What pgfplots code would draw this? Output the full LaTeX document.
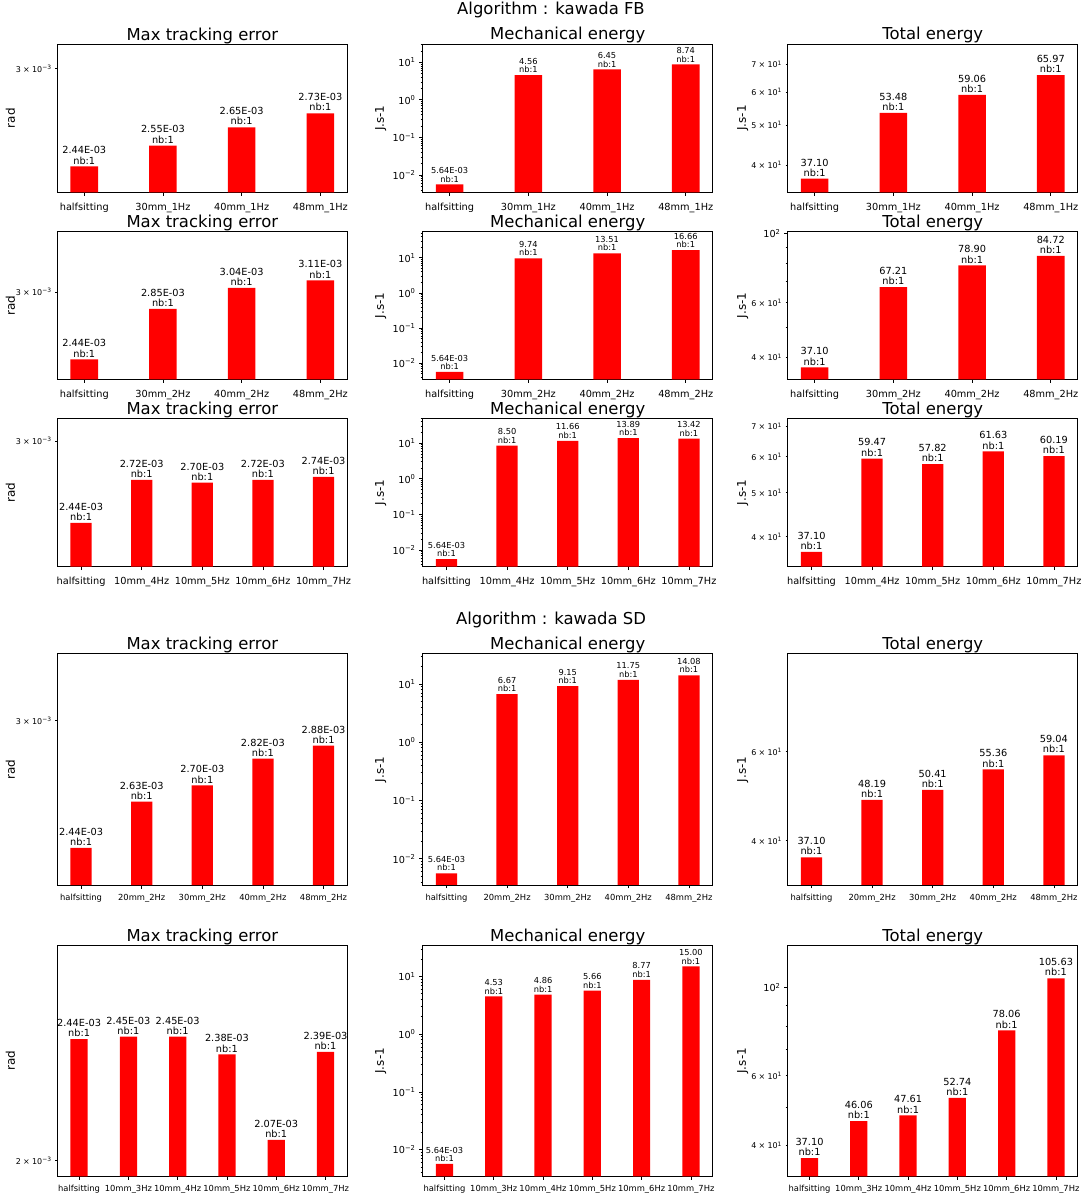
\documentclass[border=0pt]{standalone}
\usepackage{fontspec}
\setmainfont{DejaVu Sans}
\usepackage{pgfplots}
\pgfplotsset{compat=1.18}
\newcommand{\pw}[1]{10\textsuperscript{#1}}
\newcommand{\sci}[2]{{\fontsize{8}{9}\selectfont #1\hspace{0.28em}×\hspace{0.28em}10\textsuperscript{#2}}}
\pgfplotsset{
 rkbase/.style={
  scale only axis, width=290bp, log origin=infty, ybar, bar width=0.35,
  enlargelimits=false, xtick=data, tick align=outside, tick pos=left,
  major tick length=3.5bp, minor tick length=2bp,
  tick style={black, line width=0.8bp},
  axis line style={black, line width=0.8bp},
  every axis title/.style={at={(0.5,1)}, anchor=base, yshift=4bp, inner sep=0pt, font=\fontsize{16.5}{19}\selectfont},
  ylabel style={font=\fontsize{12}{14}\selectfont, anchor=center},
  yticklabel style={font=\fontsize{9.7}{11}\selectfont, inner sep=0pt, anchor=east, xshift=-3.5bp},
  extra y tick style={major tick length=2bp},
  point meta=explicit symbolic,
  nodes near coords={\pgfplotspointmeta\\nb:1},
  every node near coord/.append style={align=center, anchor=south, inner sep=0pt, yshift=2bp},
 },
 rkcA/.style={title={Max tracking error}, ylabel={rad}, ylabel style={at={(axis description cs:-0.162,0.5)}}, ytick=\empty,
   every node near coord/.append style={font=\fontsize{9.8}{10.3}\selectfont}},
 rkcB/.style={title={Mechanical energy}, ylabel={J.s-1}, ylabel style={at={(axis description cs:-0.145,0.5)}},
   ytick={0.01,0.1,1,10}, yticklabels={\pw{−2},\pw{−1},\pw{0},\pw{1}},
   minor ytick={0.004,0.005,0.006,0.007,0.008,0.009,0.02,0.03,0.04,0.05,0.06,0.07,0.08,0.09,0.2,0.3,0.4,0.5,0.6,0.7,0.8,0.9,2,3,4,5,6,7,8,9,20,30,40,50},
   every node near coord/.append style={font=\fontsize{8.3}{8.6}\selectfont}},
 rkcC/.style={title={Total energy}, ylabel={J.s-1}, ylabel style={at={(axis description cs:-0.155,0.5)}},
   every node near coord/.append style={font=\fontsize{9.8}{10.3}\selectfont}},
 rkrtop/.style={xticklabel style={font=\fontsize{9.8}{11}\selectfont, inner sep=0pt, yshift=-7bp}},
 rkrbot/.style={xticklabel style={font=\fontsize{8.4}{10}\selectfont, inner sep=0pt, yshift=-5.5bp}},
 rkfour/.style={xmin=-0.3425, xmax=3.3425},
 rkfive/.style={xmin=-0.3925, xmax=4.3925},
 rksix/.style={xmin=-0.4425, xmax=5.4425},
 rkbars/.style={fill=red, draw=none},
}
\begin{document}
\begin{tikzpicture}
\useasboundingbox (0,0) rectangle (1084bp,1193bp);
\node[anchor=base, inner sep=0pt, font=\fontsize{16.5}{19}\selectfont] at (551bp,1178.3bp) {Algorithm : kawada FB};
\node[anchor=base, inner sep=0pt, font=\fontsize{16.5}{19}\selectfont] at (551bp,568bp) {Algorithm : kawada SD};

% ---------- Row 1 ----------
\begin{semilogyaxis}[rkbase, rkcA, rkrtop, rkfour, anchor=south west, at={(57.3bp,1000.7bp)}, height=148.3bp,
  ymin=2.31e-3, ymax=3.16e-3, extra y ticks={3e-3}, extra y tick labels={\sci{3}{−3}},
  xticklabels={halfsitting,30mm\_1Hz,40mm\_1Hz,48mm\_1Hz}]
\addplot[rkbars] table[x=x,y=y,meta=l]{
x y l
0 2.44e-3 2.44E-03
1 2.55e-3 2.55E-03
2 2.65e-3 2.65E-03
3 2.73e-3 2.73E-03
};
\end{semilogyaxis}
\begin{semilogyaxis}[rkbase, rkcB, rkrtop, rkfour, anchor=south west, at={(422.7bp,1000.7bp)}, height=148.3bp,
  ymin=3.47e-3, ymax=30.7,
  xticklabels={halfsitting,30mm\_1Hz,40mm\_1Hz,48mm\_1Hz}]
\addplot[rkbars] table[x=x,y=y,meta=l]{
x y l
0 5.64e-3 5.64E-03
1 4.56 4.56
2 6.45 6.45
3 8.74 8.74
};
\end{semilogyaxis}
\begin{semilogyaxis}[rkbase, rkcC, rkrtop, rkfour, anchor=south west, at={(787.7bp,1000.7bp)}, height=148.3bp,
  ymin=34.4, ymax=78.4, ytick=\empty,
  extra y ticks={40,50,60,70}, extra y tick labels={\sci{4}{1},\sci{5}{1},\sci{6}{1},\sci{7}{1}},
  xticklabels={halfsitting,30mm\_1Hz,40mm\_1Hz,48mm\_1Hz}]
\addplot[rkbars] table[x=x,y=y,meta=l]{
x y l
0 37.10 37.10
1 53.48 53.48
2 59.06 59.06
3 65.97 65.97
};
\end{semilogyaxis}

% ---------- Row 2 ----------
\begin{semilogyaxis}[rkbase, rkcA, rkrtop, rkfour, anchor=south west, at={(57.3bp,813.7bp)}, height=147.6bp,
  ymin=2.296e-3, ymax=3.61e-3, extra y ticks={3e-3}, extra y tick labels={\sci{3}{−3}},
  xticklabels={halfsitting,30mm\_2Hz,40mm\_2Hz,48mm\_2Hz}]
\addplot[rkbars] table[x=x,y=y,meta=l]{
x y l
0 2.44e-3 2.44E-03
1 2.85e-3 2.85E-03
2 3.04e-3 3.04E-03
3 3.11e-3 3.11E-03
};
\end{semilogyaxis}
\begin{semilogyaxis}[rkbase, rkcB, rkrtop, rkfour, anchor=south west, at={(422.7bp,813.7bp)}, height=147.6bp,
  ymin=3.49e-3, ymax=55.7,
  xticklabels={halfsitting,30mm\_2Hz,40mm\_2Hz,48mm\_2Hz}]
\addplot[rkbars] table[x=x,y=y,meta=l]{
x y l
0 5.64e-3 5.64E-03
1 9.74 9.74
2 13.51 13.51
3 16.66 16.66
};
\end{semilogyaxis}
\begin{semilogyaxis}[rkbase, rkcC, rkrtop, rkfour, anchor=south west, at={(787.7bp,813.7bp)}, height=147.6bp,
  ymin=34.0, ymax=101.3, ytick={100}, yticklabels={\pw{2}}, minor ytick={50,70,80,90},
  extra y ticks={40,60}, extra y tick labels={\sci{4}{1},\sci{6}{1}},
  xticklabels={halfsitting,30mm\_2Hz,40mm\_2Hz,48mm\_2Hz}]
\addplot[rkbars] table[x=x,y=y,meta=l]{
x y l
0 37.10 37.10
1 67.21 67.21
2 78.90 78.90
3 84.72 84.72
};
\end{semilogyaxis}

% ---------- Row 3 ----------
\begin{semilogyaxis}[rkbase, rkcA, rkrtop, rkfive, anchor=south west, at={(57.3bp,626.3bp)}, height=148.4bp,
  ymin=2.185e-3, ymax=3.176e-3, extra y ticks={3e-3}, extra y tick labels={\sci{3}{−3}},
  xticklabels={halfsitting,10mm\_4Hz,10mm\_5Hz,10mm\_6Hz,10mm\_7Hz}]
\addplot[rkbars] table[x=x,y=y,meta=l]{
x y l
0 2.44e-3 2.44E-03
1 2.72e-3 2.72E-03
2 2.70e-3 2.70E-03
3 2.72e-3 2.72E-03
4 2.74e-3 2.74E-03
};
\end{semilogyaxis}
\begin{semilogyaxis}[rkbase, rkcB, rkrtop, rkfive, anchor=south west, at={(422.7bp,626.3bp)}, height=148.4bp,
  ymin=3.44e-3, ymax=50.0,
  xticklabels={halfsitting,10mm\_4Hz,10mm\_5Hz,10mm\_6Hz,10mm\_7Hz}]
\addplot[rkbars] table[x=x,y=y,meta=l]{
x y l
0 5.64e-3 5.64E-03
1 8.50 8.50
2 11.66 11.66
3 13.89 13.89
4 13.42 13.42
};
\end{semilogyaxis}
\begin{semilogyaxis}[rkbase, rkcC, rkrtop, rkfive, anchor=south west, at={(787.7bp,626.3bp)}, height=148.4bp,
  ymin=34.4, ymax=72.9, ytick=\empty,
  extra y ticks={40,50,60,70}, extra y tick labels={\sci{4}{1},\sci{5}{1},\sci{6}{1},\sci{7}{1}},
  xticklabels={halfsitting,10mm\_4Hz,10mm\_5Hz,10mm\_6Hz,10mm\_7Hz}]
\addplot[rkbars] table[x=x,y=y,meta=l]{
x y l
0 37.10 37.10
1 59.47 59.47
2 57.82 57.82
3 61.63 61.63
4 60.19 60.19
};
\end{semilogyaxis}

% ---------- Row 4 ----------
\begin{semilogyaxis}[rkbase, rkcA, rkrbot, rkfive, anchor=south west, at={(57.3bp,308bp)}, height=231.3bp,
  ymin=2.297e-3, ymax=3.344e-3, extra y ticks={3e-3}, extra y tick labels={\sci{3}{−3}},
  xticklabels={halfsitting,20mm\_2Hz,30mm\_2Hz,40mm\_2Hz,48mm\_2Hz}]
\addplot[rkbars] table[x=x,y=y,meta=l]{
x y l
0 2.44e-3 2.44E-03
1 2.63e-3 2.63E-03
2 2.70e-3 2.70E-03
3 2.82e-3 2.82E-03
4 2.88e-3 2.88E-03
};
\end{semilogyaxis}
\begin{semilogyaxis}[rkbase, rkcB, rkrbot, rkfive, anchor=south west, at={(422.7bp,308bp)}, height=231.3bp,
  ymin=3.55e-3, ymax=33.0,
  xticklabels={halfsitting,20mm\_2Hz,30mm\_2Hz,40mm\_2Hz,48mm\_2Hz}]
\addplot[rkbars] table[x=x,y=y,meta=l]{
x y l
0 5.64e-3 5.64E-03
1 6.67 6.67
2 9.15 9.15
3 11.75 11.75
4 14.08 14.08
};
\end{semilogyaxis}
\begin{semilogyaxis}[rkbase, rkcC, rkrbot, rkfive, anchor=south west, at={(787.7bp,308bp)}, height=231.3bp,
  ymin=32.7, ymax=93.8, ytick=\empty, minor ytick={50,70,80,90},
  extra y ticks={40,60}, extra y tick labels={\sci{4}{1},\sci{6}{1}},
  xticklabels={halfsitting,20mm\_2Hz,30mm\_2Hz,40mm\_2Hz,48mm\_2Hz}]
\addplot[rkbars] table[x=x,y=y,meta=l]{
x y l
0 37.10 37.10
1 48.19 48.19
2 50.41 50.41
3 55.36 55.36
4 59.04 59.04
};
\end{semilogyaxis}

% ---------- Row 5 ----------
\begin{semilogyaxis}[rkbase, rkcA, rkrbot, rksix, anchor=south west, at={(57.3bp,16.7bp)}, height=231bp,
  ymin=1.95e-3, ymax=2.844e-3, extra y ticks={2e-3}, extra y tick labels={\sci{2}{−3}},
  xticklabels={halfsitting,10mm\_3Hz,10mm\_4Hz,10mm\_5Hz,10mm\_6Hz,10mm\_7Hz}]
\addplot[rkbars] table[x=x,y=y,meta=l]{
x y l
0 2.44e-3 2.44E-03
1 2.45e-3 2.45E-03
2 2.45e-3 2.45E-03
3 2.38e-3 2.38E-03
4 2.07e-3 2.07E-03
5 2.39e-3 2.39E-03
};
\end{semilogyaxis}
\begin{semilogyaxis}[rkbase, rkcB, rkrbot, rksix, anchor=south west, at={(422.7bp,16.7bp)}, height=231bp,
  ymin=3.45e-3, ymax=34.7,
  xticklabels={halfsitting,10mm\_3Hz,10mm\_4Hz,10mm\_5Hz,10mm\_6Hz,10mm\_7Hz}]
\addplot[rkbars] table[x=x,y=y,meta=l]{
x y l
0 5.64e-3 5.64E-03
1 4.53 4.53
2 4.86 4.86
3 5.66 5.66
4 8.77 8.77
5 15.00 15.00
};
\end{semilogyaxis}
\begin{semilogyaxis}[rkbase, rkcC, rkrbot, rksix, anchor=south west, at={(787.7bp,16.7bp)}, height=231bp,
  ymin=33.4, ymax=128, ytick={100}, yticklabels={\pw{2}}, minor ytick={50,70,80,90},
  extra y ticks={40,60}, extra y tick labels={\sci{4}{1},\sci{6}{1}},
  xticklabels={halfsitting,10mm\_3Hz,10mm\_4Hz,10mm\_5Hz,10mm\_6Hz,10mm\_7Hz}]
\addplot[rkbars] table[x=x,y=y,meta=l]{
x y l
0 37.10 37.10
1 46.06 46.06
2 47.61 47.61
3 52.74 52.74
4 78.06 78.06
5 105.63 105.63
};
\end{semilogyaxis}
\end{tikzpicture}
\end{document}
